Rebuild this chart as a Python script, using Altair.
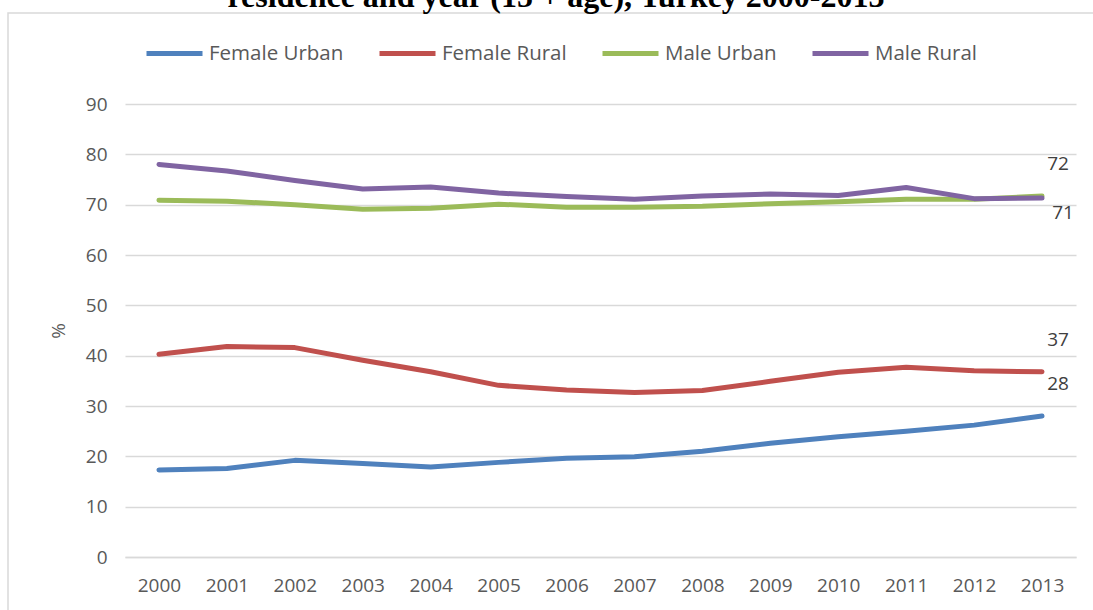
import altair as alt
import pandas as pd

years = list(range(2000, 2014))
series_names = ["Female Urban", "Female Rural", "Male Urban", "Male Rural"]
series_colors = ["#4F81BD", "#C0504D", "#9BBB59", "#8064A2"]
female_urban = [17.3, 17.6, 19.2, 18.6, 17.9, 18.8, 19.6, 19.9, 21.0, 22.6, 23.9, 25.0, 26.2, 28.0]
female_rural = [40.3, 41.8, 41.6, 39.1, 36.8, 34.1, 33.2, 32.7, 33.1, 34.9, 36.7, 37.7, 37.0, 36.8]
male_urban = [70.9, 70.7, 70.0, 69.1, 69.3, 70.1, 69.5, 69.5, 69.7, 70.2, 70.6, 71.1, 71.1, 71.7]
male_rural = [78.0, 76.7, 74.8, 73.1, 73.5, 72.3, 71.6, 71.1, 71.7, 72.1, 71.8, 73.4, 71.2, 71.3]

label_above_series = ["Female Urban", "Female Rural", "Male Urban"]
label_above_text = ["28", "37", "72"]
label_below_series = ["Male Rural"]
label_below_text = ["71"]

title_text = "residence and year (15 + age), Turkey 2000-2013"

rows = []
for name, vals in zip(series_names, [female_urban, female_rural, male_urban, male_rural]):
    for y, v in zip(years, vals):
        rows.append({"year": str(y), "value": v, "series": name})
df = pd.DataFrame(rows)

last = {name: vals[-1] for name, vals in zip(series_names, [female_urban, female_rural, male_urban, male_rural])}
df_above = pd.DataFrame({"year": [str(years[-1])] * len(label_above_series),
                         "series": label_above_series,
                         "value": [last[s] for s in label_above_series],
                         "label": label_above_text})
df_below = pd.DataFrame({"year": [str(years[-1])] * len(label_below_series),
                         "series": label_below_series,
                         "value": [last[s] for s in label_below_series],
                         "label": label_below_text})

FONT = "Open Sans"
W, H = 951, 453
PAD_L, PAD_T, PAD_R, PAD_B = 125, 104, 17, 53

x_enc = alt.X("year:O", scale=alt.Scale(type="point", padding=0.5),
              axis=alt.Axis(title=None, labelAngle=0, ticks=False, domain=True,
                            domainColor="#d9d9d9", domainWidth=1.5,
                            labelPadding=28, labelBaseline="middle",
                            labelFont=FONT, labelFontSize=19, labelColor="#595959"))
y_enc = alt.Y("value:Q", scale=alt.Scale(domain=[0, 90], nice=False),
              axis=alt.Axis(title="%", values=list(range(0, 91, 10)), ticks=False, domain=False,
                            grid=True, gridColor="#d9d9d9", gridWidth=1.5,
                            labelPadding=18, labelFont=FONT, labelFontSize=19, labelColor="#595959",
                            titleFont=FONT, titleFontSize=19, titleColor="#595959", titleFontWeight="normal",
                            titleAngle=270, titleX=-67, titleY=H / 2, titleAlign="center",
                            titleBaseline="middle"))

lines = alt.Chart(df).mark_line(strokeWidth=5, strokeCap="round", strokeJoin="round").encode(
    x=x_enc,
    y=y_enc,
    color=alt.Color("series:N", sort=series_names,
                    scale=alt.Scale(domain=series_names, range=series_colors),
                    legend=alt.Legend(title=None, orient="none", direction="horizontal",
                                      legendX=19, legendY=-81,
                                      symbolType="stroke", symbolStrokeWidth=5, symbolSize=3136,
                                      labelOffset=4, columnPadding=25,
                                      labelFont=FONT, labelFontSize=20.5, labelColor="#595959")),
    order=alt.Order("series_order:Q"),
).transform_calculate(
    series_order="indexof(" + str(series_names) + ", datum.series)"
)

text_above = alt.Chart(df_above).mark_text(font=FONT, fontSize=19, color="#404040",
                                           dx=16, dy=-32, align="center", baseline="middle").encode(
    x="year:O", y="value:Q", text="label:N")
text_below = alt.Chart(df_below).mark_text(font=FONT, fontSize=19, color="#404040",
                                           dx=21, dy=15, align="center", baseline="middle").encode(
    x="year:O", y="value:Q", text="label:N")

frame_df = pd.DataFrame({"k": [0]})
frame = alt.Chart(frame_df).mark_rect(fill=None, stroke="#d9d9d9", strokeWidth=1.5).encode(
    x=alt.value(8 - PAD_L), x2=alt.value(W + 200), y=alt.value(13 - PAD_T), y2=alt.value(H + 200))

title_df = pd.DataFrame({"t": [title_text]})
title = alt.Chart(title_df).mark_text(font="Liberation Serif", fontSize=32, fontWeight="bold",
                                      color="#000000", align="center", baseline="alphabetic").encode(
    x=alt.value(556 - PAD_L), y=alt.value(7 - PAD_T), text="t:N")

chart = alt.layer(frame, lines, text_above, text_below, title).properties(
    width=W, height=H,
    autosize=alt.AutoSizeParams(type="none"),
    padding={"left": PAD_L, "top": PAD_T, "right": PAD_R, "bottom": PAD_B},
    background="white",
).configure_view(stroke=None)

chart.save("out.html", embed_options={"renderer": "svg", "actions": False})
